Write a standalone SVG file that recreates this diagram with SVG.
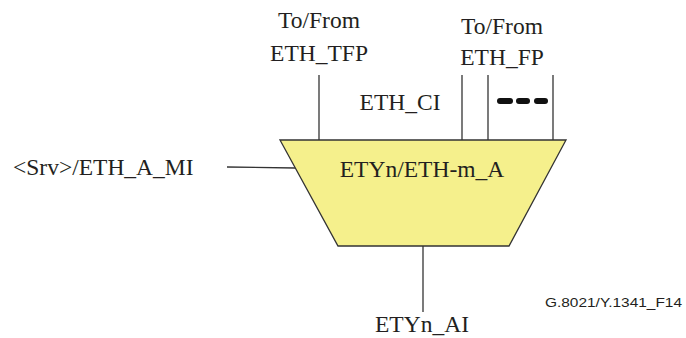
<svg xmlns="http://www.w3.org/2000/svg" width="686" height="338" viewBox="0 0 686 338">
<style>
.t{font-family:"Liberation Serif","Times New Roman",serif;font-size:23.5px;fill:#231f20}
.s{font-family:"Liberation Sans",Arial,sans-serif;font-size:13px;fill:#231f20}
.c{stroke:#333;stroke-width:1.3;fill:none}
.d{stroke:#111;stroke-width:6;stroke-linecap:round}
</style>
<rect width="686" height="338" fill="#fff"/>
<g id="connectors">
<line class="c" x1="319" y1="75" x2="319" y2="140"/>
<line class="c" x1="462" y1="75" x2="462" y2="140"/>
<line class="c" x1="488" y1="75" x2="488" y2="140"/>
<line class="c" x1="553" y1="75" x2="553" y2="140"/>
<line class="c" x1="227" y1="167" x2="295" y2="168"/>
<line class="c" x1="423" y1="246" x2="423" y2="312"/>
</g>
<g id="node-etyn-eth-m-a">
<polygon points="280,140 566,140 509,246 338,246" fill="#f5f08c" stroke="#333" stroke-width="1.3"/>
<text class="t" x="422" y="177" text-anchor="middle">ETYn/ETH-m_A</text>
</g>
<g id="label-tfp">
<text class="t" x="319" y="28" text-anchor="middle">To/From</text>
<text class="t" x="319" y="61" text-anchor="middle">ETH_TFP</text>
</g>
<g id="label-fp">
<text class="t" x="502" y="34" text-anchor="middle">To/From</text>
<text class="t" x="502" y="65" text-anchor="middle">ETH_FP</text>
</g>
<g id="label-ci">
<text class="t" x="400" y="110" text-anchor="middle">ETH_CI</text>
</g>
<g id="dots">
<line class="d" x1="500" y1="101" x2="510" y2="101"/>
<line class="d" x1="519" y1="101" x2="527" y2="101"/>
<line class="d" x1="537" y1="101" x2="545" y2="101"/>
</g>
<g id="label-mi">
<text class="t" x="13" y="175">&lt;Srv&gt;/ETH_A_MI</text>
</g>
<g id="label-ai">
<text class="t" x="422" y="332" text-anchor="middle">ETYn_AI</text>
</g>
<text class="s" x="545" y="307" textLength="137" lengthAdjust="spacingAndGlyphs">G.8021/Y.1341_F14</text>
</svg>
